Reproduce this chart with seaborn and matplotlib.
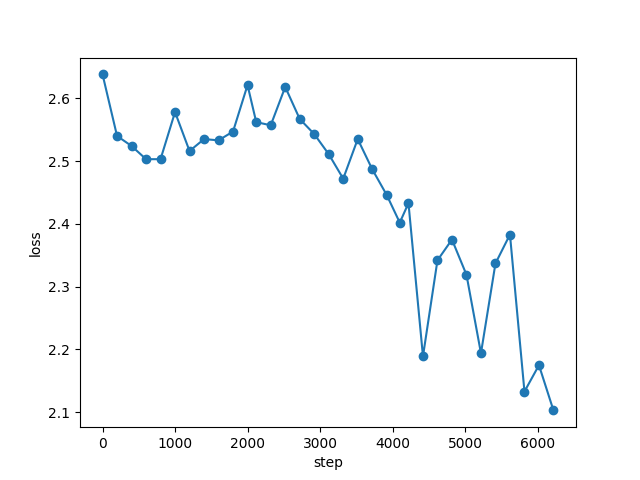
import pandas as pd
import matplotlib
matplotlib.use("Agg")
import matplotlib.pyplot as plt
import seaborn as sns

steps = [0, 200, 400, 600, 800, 1000, 1200, 1400, 1600, 1800, 2000,
         2120, 2320, 2520, 2720, 2920, 3120, 3320, 3520, 3720, 3920,
         4100, 4220, 4420, 4620, 4820, 5020, 5220, 5420, 5620, 5820, 6020, 6220]
loss = [2.638, 2.540, 2.524, 2.503, 2.503, 2.578, 2.516, 2.535, 2.533, 2.547, 2.621,
        2.562, 2.557, 2.618, 2.567, 2.543, 2.511, 2.472, 2.535, 2.487, 2.446,
        2.402, 2.433, 2.189, 2.342, 2.375, 2.319, 2.194, 2.337, 2.383, 2.133, 2.175, 2.103]

df = pd.DataFrame({"step": steps, "loss": loss})

fig, ax = plt.subplots(figsize=(6.4, 4.8), dpi=100)
sns.lineplot(data=df, x="step", y="loss", ax=ax, color="#1f77b4", marker="o",
             markersize=6, markeredgecolor="#1f77b4", markeredgewidth=1, linewidth=1.5)
ax.set_xlabel("step")
ax.set_ylabel("loss")

plt.savefig("out.png", dpi=100)
